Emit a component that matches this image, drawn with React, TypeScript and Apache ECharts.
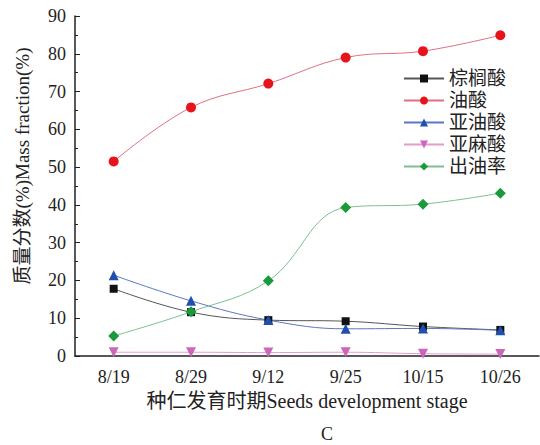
import React, { useEffect, useRef } from "react";
import * as echarts from "echarts";

const categories = ["8/19", "8/29", "9/12", "9/25", "10/15", "10/26"];
const palmitic = [17.8, 11.6, 9.5, 9.2, 7.8, 6.9];
const oleic = [51.5, 65.8, 72.1, 79.0, 80.7, 84.9];
const linoleic = [21.4, 14.6, 9.5, 7.2, 7.3, 6.8];
const linolenic = [1.0, 1.0, 0.9, 1.0, 0.6, 0.5];
const oilRate = [5.3, 11.7, 19.9, 39.3, 40.2, 43.1];
const legendNames = ["棕榈酸", "油酸", "亚油酸", "亚麻酸", "出油率"];

const SERIF = '"Liberation Serif", "Noto Sans CJK SC", serif';

export default function App() {
  const ref = useRef<HTMLDivElement>(null);
  useEffect(() => {
    if (!ref.current) return;
    const chart = echarts.init(ref.current, undefined, { renderer: "svg" });
    const mk = (
      name: string,
      data: number[],
      lineColor: string,
      markColor: string,
      symbol: string,
      size: number,
      rotate = 0
    ) => ({
      name,
      type: "line",
      data,
      smooth: 0.4,
      symbol,
      symbolSize: size,
      symbolRotate: rotate,
      lineStyle: { color: lineColor, width: 1 },
      itemStyle: { color: markColor },
      z: 3,
    });
    chart.setOption({
      animation: false,
      backgroundColor: "#fff",
      grid: { left: 75, right: 1, top: 16, bottom: 89, containLabel: false },
      legend: {
        orient: "vertical",
        left: 398,
        top: 64,
        itemWidth: 40,
        itemHeight: 10,
        itemGap: 3,
        textStyle: { fontFamily: SERIF, fontSize: 19, color: "#222" },
        data: legendNames,
      },
      xAxis: {
        type: "category",
        data: categories,
        boundaryGap: true,
        name: "种仁发育时期Seeds development stage",
        nameLocation: "middle",
        nameGap: 35,
        nameTextStyle: { fontFamily: SERIF, fontSize: 20, color: "#222" },
        axisLine: { lineStyle: { color: "#222", width: 1.5 } },
        axisTick: { inside: true, length: 4, lineStyle: { color: "#222" } },
        axisLabel: { fontFamily: SERIF, fontSize: 18, color: "#222", margin: 12 },
        splitLine: { show: false },
      },
      yAxis: {
        type: "value",
        min: 0,
        max: 90,
        interval: 10,
        axisLine: { show: true, lineStyle: { color: "#222", width: 1.5 } },
        axisTick: { show: true, inside: true, length: 5, lineStyle: { color: "#222" } },
        minorTick: { show: true, splitNumber: 2, length: 3, lineStyle: { color: "#222" } },
        axisLabel: { fontFamily: SERIF, fontSize: 18, color: "#222", margin: 9 },
        splitLine: { show: false },
      },
      graphic: [
        {
          type: "text",
          x: 22,
          y: 166,
          rotation: Math.PI / 2,
          style: {
            text: "质量分数(%)Mass fraction(%)",
            fontFamily: SERIF,
            fontSize: 19,
            fill: "#222",
            align: "center",
            verticalAlign: "middle",
          },
        },
        {
          type: "text",
          x: 327,
          y: 434,
          style: {
            text: "C",
            fontFamily: SERIF,
            fontSize: 18,
            fill: "#222",
            align: "center",
            verticalAlign: "middle",
          },
        },
      ],
      series: [
        mk("棕榈酸", palmitic, "#555", "#111", "rect", 8),
        mk("油酸", oleic, "#e07080", "#e8141c", "circle", 10),
        mk("亚油酸", linoleic, "#5a78c0", "#1f4fb0", "triangle", 10),
        mk("亚麻酸", linolenic, "#e59ad0", "#cc66bb", "triangle", 10, 180),
        mk("出油率", oilRate, "#7cc090", "#1a9a3a", "diamond", 11),
      ],
    });
    return () => chart.dispose();
  }, []);
  return (
    <div
      ref={ref}
      style={{ position: "absolute", left: 0, top: 0, width: 540, height: 445 }}
    />
  );
}
